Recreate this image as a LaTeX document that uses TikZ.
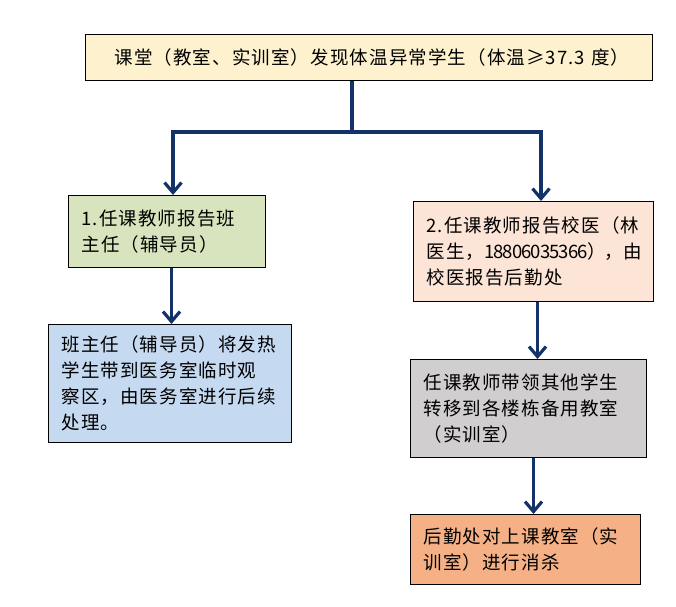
\documentclass[tikz,border=0pt]{standalone}
\usepackage{fontspec}
\usepackage{xcolor}
\usepackage{tikz}
\usetikzlibrary{arrows.meta}
\newfontfamily\cjk[LetterSpace=6]{Noto Sans CJK SC}
\definecolor{navy}{HTML}{14326A}
\definecolor{cream}{HTML}{FEF2CE}
\definecolor{sage}{HTML}{D7E4BD}
\definecolor{blush}{HTML}{FCE4D6}
\definecolor{sky}{HTML}{C5D9F1}
\definecolor{ash}{HTML}{D0CECE}
\definecolor{apricot}{HTML}{F5B185}
\tikzset{
  box/.style={draw=black, line width=1pt, anchor=north west, align=left,
    inner xsep=13pt, inner ysep=0pt, font=\cjk\fontsize{18.5}{26}\selectfont},
  link/.style={draw=navy, line width=3.2pt},
  barb/.tip={Straight Barb[length=10pt,width=17pt]},
  arr/.style={link, -barb},
}
\begin{document}
\begin{tikzpicture}[x=1pt,y=-1pt]
  \useasboundingbox (0,0) rectangle (676,606);
  % boxes
  \node[box, fill=cream, inner xsep=29pt, text width=509pt, minimum height=46pt] (found) at (85,34)
    {课堂（教室、实训室）发现体温异常学生（体温≥37.3~度）};
  \node[box, fill=sage, text width=171pt, minimum height=72pt] (report) at (68,195)
    {1.任课教师报告班\\主任（辅导员）};
  \node[box, fill=blush, text width=214pt, minimum height=100pt] (doctor) at (413,201)
    {2.任课教师报告校医（林\\医生，{\addfontfeature{LetterSpace=-5}18806035366），}由\\校医报告后勤处};
  \node[box, fill=sky, text width=217pt, minimum height=118pt] (care) at (48,324)
    {班主任（辅导员）将发热\\学生带到医务室临时观\\察区，由医务室进行后续\\处理。};
  \node[box, fill=ash, text width=210pt, minimum height=98pt] (move) at (410,359)
    {任课教师带领其他学生\\转移到各楼栋备用教室\\（实训室）};
  \node[box, fill=apricot, text width=204pt, minimum height=70pt] (clean) at (410,514)
    {后勤处对上课教室（实\\训室）进行消杀};
  % connectors
  \coordinate (fork) at (352,132);
  \coordinate (forkL) at (173,132);
  \coordinate (forkR) at (541,132);
  \draw[link] (fork |- found.south) -- (fork);
  \draw[link, barb-barb] (forkL |- report.north) -- (forkL) -- (forkR) -- (forkR |- doctor.north);
  \coordinate (a1) at ([xshift=4.5pt]report.south);
  \coordinate (a2) at ([xshift=4pt]doctor.south);
  \coordinate (a3) at ([xshift=5pt]move.south);
  \draw[arr] (a1) -- (a1 |- care.north);
  \draw[arr] (a2) -- (a2 |- move.north);
  \draw[arr] (a3) -- (a3 |- clean.north);
\end{tikzpicture}
\end{document}
